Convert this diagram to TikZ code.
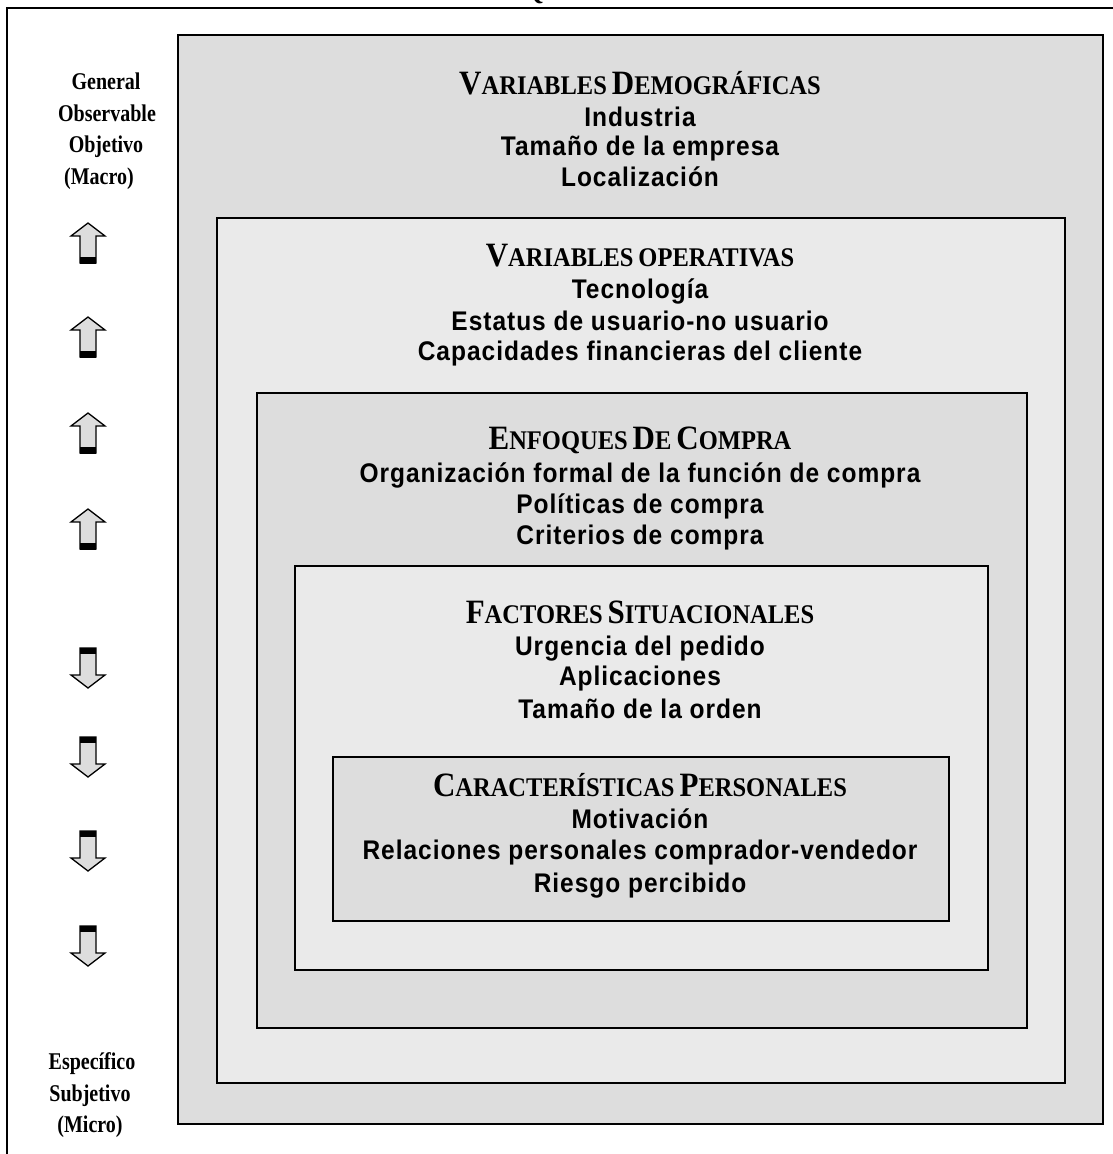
\documentclass[tikz,border=0pt]{standalone}
\usepackage{fontspec}
\usepackage{graphicx}
\setmainfont{Liberation Serif}
\newfontfamily\bodyfont{Liberation Sans}[LetterSpace=4]
\definecolor{boxdark}{HTML}{DDDDDD}
\definecolor{boxlight}{HTML}{EAEAEA}
\definecolor{arrowfill}{HTML}{DDDDDD}

% small-caps headings built from a large initial and smaller capitals
\newcommand\capword[2]{{\fontsize{31}{31}\selectfont #1}{\fontsize{24.5}{24.5}\selectfont #2}}
\newcommand\tallish[1]{\scalebox{1}[1.1]{#1}}
\newcommand\tallside[1]{\scalebox{1}[1.2]{#1}}

\tikzset{
  layer/.style={draw=black, line width=1.7pt},
  heading/.style={anchor=base, inner sep=0pt, font=\bfseries},
  item/.style={anchor=base, inner sep=0pt, font=\bodyfont\bfseries\fontsize{24.5}{24.5}\selectfont},
  side/.style={anchor=base, inner sep=0pt, font=\bfseries\fontsize{20}{20}\selectfont},
  uparr/.pic={
    \draw[fill=arrowfill, line width=1.3pt, line join=miter]
      (0,-20) -- (17,-7) -- (8,-7) -- (8,20) -- (-8,20) -- (-8,-7) -- (-17,-7) -- cycle;
    \fill[black] (-8,14) rectangle (8,20.5);
  },
  downarr/.pic={
    \draw[fill=arrowfill, line width=1.3pt, line join=miter]
      (0,20) -- (17,7) -- (8,7) -- (8,-20) -- (-8,-20) -- (-8,7) -- (-17,7) -- cycle;
    \fill[black] (-8,-20.5) rectangle (8,-14);
  }
}

\begin{document}
\begin{tikzpicture}[x=1pt,y=-1pt]
\useasboundingbox (0,0) rectangle (1113,1154);
\fill[white] (0,0) rectangle (1113,1154);

% outer frame and title, running past the page edges
\begin{scope}
  \clip (0,0) rectangle (1113,1154);
  \draw[line width=2pt] (7,8) rectangle (1130,1175);
  \node[heading] (title) at (578,-1) {\tallish{\capword{E}{NFOQUE} \capword{D}{E} \capword{N}{IDOS}}};
\end{scope}

% nested layers
\filldraw[layer, fill=boxdark]  (178,35)  rectangle (1103,1124);
\filldraw[layer, fill=boxlight] (217,218) rectangle (1065,1083);
\filldraw[layer, fill=boxdark]  (257,393) rectangle (1027,1028);
\filldraw[layer, fill=boxlight] (295,566) rectangle (988,970);
\filldraw[layer, fill=boxdark]  (333,757) rectangle (949,921);

% layer 1
\node[heading] (h1) at (640,94) {\tallish{\capword{V}{ARIABLES}\hspace{5pt}\capword{D}{EMOGRÁFICAS}}};
\node[item] (a1) at (640,126) {\tallish{Industria}};
\node[item] (a2) at (640,155) {\tallish{Tamaño de la empresa}};
\node[item] (a3) at (640,186) {\tallish{Localización}};

% layer 2
\node[heading] (h2) at (640,266) {\tallish{\capword{V}{ARIABLES}\hspace{5pt}{\fontsize{24.5}{24.5}\selectfont OPERATIVAS}}};
\node[item] (b1) at (640,298) {\tallish{Tecnología}};
\node[item] (b2) at (640,330) {\tallish{Estatus de usuario-no usuario}};
\node[item] (b3) at (640,360) {\tallish{Capacidades financieras del cliente}};

% layer 3
\node[heading] (h3) at (640,449) {\tallish{\capword{E}{NFOQUES}\hspace{5pt}\capword{D}{E}\hspace{5pt}\capword{C}{OMPRA}}};
\node[item] (c1) at (640,482) {\tallish{Organización formal de la función de compra}};
\node[item] (c2) at (640,513) {\tallish{Políticas de compra}};
\node[item] (c3) at (640,544) {\tallish{Criterios de compra}};

% layer 4
\node[heading] (h4) at (640,623) {\tallish{\capword{F}{ACTORES}\hspace{5pt}\capword{S}{ITUACIONALES}}};
\node[item] (d1) at (640,655) {\tallish{Urgencia del pedido}};
\node[item] (d2) at (640,685) {\tallish{Aplicaciones}};
\node[item] (d3) at (640,718) {\tallish{Tamaño de la orden}};

% layer 5
\node[heading] (h5) at (640,796) {\tallish{\capword{C}{ARACTERÍSTICAS}\hspace{5pt}\capword{P}{ERSONALES}}};
\node[item] (e1) at (640,828) {\tallish{Motivación}};
\node[item] (e2) at (640,859) {\tallish{Relaciones personales comprador-vendedor}};
\node[item] (e3) at (640,892) {\tallish{Riesgo percibido}};

% scale labels on the left
\node[side] (g1) at (106,89)  {\tallside{General}};
\node[side] (g2) at (107,121) {\tallside{Observable}};
\node[side] (g3) at (106,152) {\tallside{Objetivo}};
\node[side] (g4) at (99,184)  {\tallside{(Macro)}};
\node[side] (s1) at (92,1069) {\tallside{Específico}};
\node[side] (s2) at (90,1101) {\tallside{Subjetivo}};
\node[side] (s3) at (90,1132) {\tallside{(Micro)}};

% direction arrows
\pic at (88,243) {uparr};
\pic at (88,337) {uparr};
\pic at (88,433) {uparr};
\pic at (88,529) {uparr};
\pic at (88,668) {downarr};
\pic at (88,757) {downarr};
\pic at (88,851) {downarr};
\pic at (88,946) {downarr};
\end{tikzpicture}
\end{document}
